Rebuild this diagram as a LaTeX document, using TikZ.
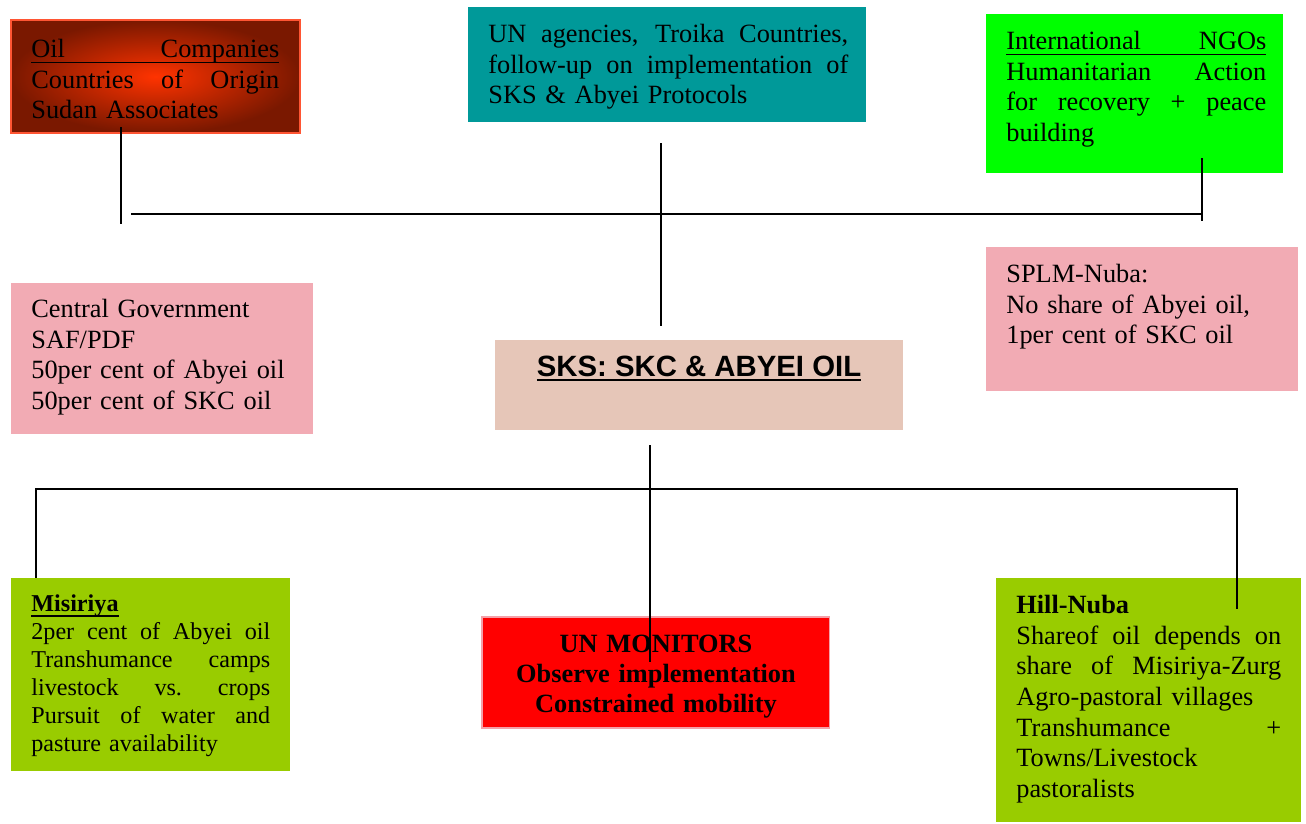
\documentclass[tikz,border=0pt]{standalone}
\usepackage{fontspec}
\setmainfont{Liberation Serif}
\setsansfont{Liberation Sans}
\usetikzlibrary{positioning}

\definecolor{oilred}{HTML}{FF3300}
\definecolor{oildark}{HTML}{7A1800}
\definecolor{oilrim}{HTML}{FF5533}
\definecolor{unteal}{HTML}{009999}
\definecolor{ngogreen}{HTML}{00FF00}
\definecolor{rosepink}{HTML}{F2ABB4}
\definecolor{sksbeige}{HTML}{E6C6B8}
\definecolor{limegreen}{HTML}{99CC00}
\definecolor{monred}{HTML}{FF0000}
\definecolor{monrim}{HTML}{F4A0A8}

\setlength\parindent{0pt}
\setlength\parskip{0pt}
\newcommand{\spread}[1]{\makebox[\hsize][s]{\spaceskip=\fontdimen2\font plus 1fil\xspaceskip=\spaceskip\strut#1}}
\newcommand{\jl}[1]{\spread{#1}\par}
\newcommand{\pl}[1]{\strut#1\par}
\newcommand{\ulbox}[2]{\leavevmode\setbox0\hbox{#2}\rlap{\rule[-3pt]{\wd0}{#1}}\box0}

\begin{document}
\begin{tikzpicture}[x=0.02cm,y=-0.02cm,
	panel/.style={anchor=north west, inner sep=0pt, outer sep=0pt},
	txt/.style={anchor=north west, inner sep=0pt, font=\fontsize{15}{17.4}\selectfont},
	link/.style={line width=1pt}]
	\useasboundingbox (0,0) rectangle (1306,823);

	%Draw boxes
	\node[panel, minimum width=5.78cm, minimum height=2.26cm, inner color=oilred, outer color=oildark, draw=oilrim, line width=0.8pt] (oil) at (11,20) {};
	\node[panel, minimum width=7.96cm, minimum height=2.30cm, fill=unteal] (un) at (468,7) {};
	\node[panel, minimum width=5.94cm, minimum height=3.18cm, fill=ngogreen] (ngo) at (986,14) {};
	\node[panel, minimum width=6.04cm, minimum height=3.02cm, fill=rosepink] (gov) at (11,283) {};
	\node[panel, minimum width=6.24cm, minimum height=2.88cm, fill=rosepink] (splm) at (986,247) {};
	\node[panel, minimum width=8.16cm, minimum height=1.80cm, fill=sksbeige] (sks) at (495,340) {};
	\node[panel, minimum width=5.58cm, minimum height=3.86cm, fill=limegreen] (mis) at (11,578) {};
	\node[panel, minimum width=6.96cm, minimum height=2.22cm, fill=monred, draw=monrim, line width=0.6pt] (mon) at (482,617) {};
	\node[panel, minimum width=6.10cm, minimum height=4.88cm, fill=limegreen] (hill) at (996,578) {};

	%Draw box texts
	\node[txt, text width=4.96cm] (oil-t) at ([shift={(20,16)}]oil.north west) {%
		\ulbox{0.8pt}{\spread{Oil Companies}}\par
		\jl{Countries of Origin}
		\pl{Sudan Associates}};
	\node[txt, text width=7.20cm] (un-t) at ([shift={(20,14)}]un.north west) {%
		\jl{UN agencies, Troika Countries,}
		\jl{follow-up on implementation of}
		\pl{SKS \& Abyei Protocols}};
	\node[txt, text width=5.20cm] (ngo-t) at ([shift={(20,14)}]ngo.north west) {%
		\ulbox{0.8pt}{\spread{International NGOs}}\par
		\jl{Humanitarian Action}
		\jl{for recovery + peace}
		\pl{building}};
	\node[txt, text width=5.40cm] (gov-t) at ([shift={(20,13)}]gov.north west) {%
		\pl{Central Government}
		\pl{SAF/PDF}
		\pl{50per cent of Abyei oil}
		\pl{50per cent of SKC oil}};
	\node[txt, text width=5.60cm] (splm-t) at ([shift={(20,14)}]splm.north west) {%
		\pl{SPLM-Nuba:}
		\pl{No share of Abyei oil,}
		\pl{1per cent of SKC oil}};
	\node[anchor=base, inner sep=0pt, font=\sffamily\bfseries\fontsize{16.7}{19}\selectfont] (sks-t) at (699,376) {\ulbox{1.3pt}{SKS: SKC \& ABYEI OIL}};
	\node[txt, text width=4.78cm, font=\fontsize{13.75}{15.9}\selectfont] (mis-t) at ([shift={(20,14)}]mis.north west) {%
		\ulbox{1.2pt}{\strut\textbf{Misiriya}}\par
		\jl{2per cent of Abyei oil}
		\jl{Transhumance camps}
		\jl{livestock vs. crops}
		\jl{Pursuit of water and}
		\pl{pasture availability}};
	\node[txt, anchor=north, text width=6.6cm, align=center, font=\bfseries\fontsize{15}{17.2}\selectfont] (mon-t) at ([shift={(0,14)}]mon.north) {%
		\strut UN MONITORS\\
		\strut Observe implementation\\
		\strut Constrained mobility};
	\node[txt, text width=5.30cm] (hill-t) at ([shift={(20,14)}]hill.north west) {%
		\pl{\textbf{Hill-Nuba}}
		\jl{Shareof oil depends on}
		\jl{share of Misiriya-Zurg}
		\pl{Agro-pastoral villages}
		\jl{Transhumance +}
		\pl{Towns/Livestock}
		\pl{pastoralists}};

	%Draw upper connectors
	\coordinate (oil-drop) at (121,127);
	\coordinate (oil-end) at (121,224);
	\coordinate (bar-west) at (131,214);
	\coordinate (bar-east) at (1202,214);
	\coordinate (ngo-drop) at (1202,158);
	\coordinate (ngo-end) at (1202,221);
	\coordinate (un-drop) at (661,143);
	\coordinate (sks-top) at (661,326);
	\draw[link] (oil-drop) -- (oil-end);
	\draw[link] (bar-west) -- (bar-east);
	\draw[link] (ngo-drop) -- (ngo-end);
	\draw[link] (un-drop) -- (sks-top);

	%Draw lower connectors
	\coordinate (sks-drop) at (650,445);
	\coordinate (mon-end) at (650,662);
	\coordinate (mis-top) at (36,578);
	\coordinate (hill-end) at (1237,609);
	\draw[link] (sks-drop) -- (mon-end);
	\draw[link] (mis-top) |- (hill-end |- 0,489) -- (hill-end);
\end{tikzpicture}
\end{document}
